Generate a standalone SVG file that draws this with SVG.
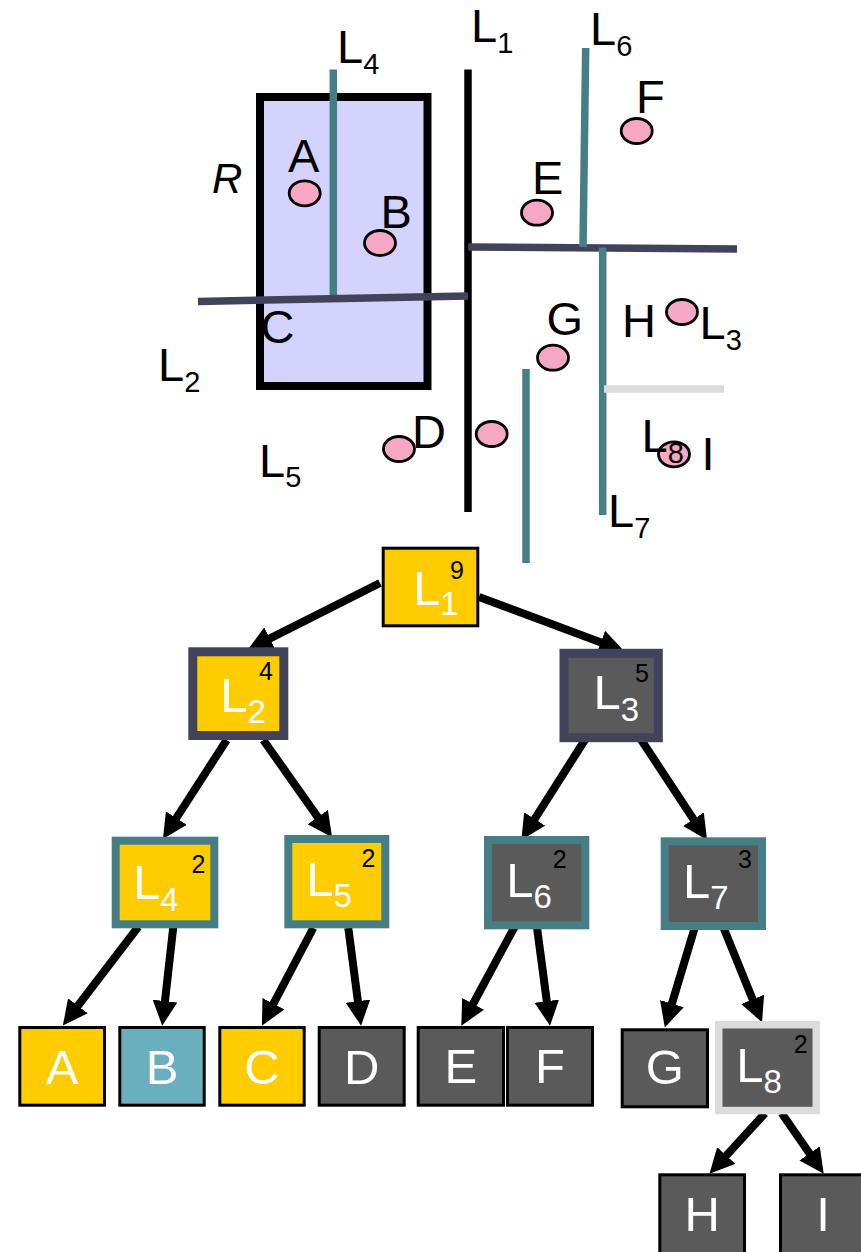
<svg xmlns="http://www.w3.org/2000/svg" width="861" height="1252" viewBox="0 0 861 1252">
  <style>
    text { font-family: "Liberation Sans", Arial, sans-serif; }
    .lbl { font-size: 47px; fill: #000; }
    .sub { font-size: 29px; }
    .pt { fill: #f5a7c4; stroke: #000; stroke-width: 2.8; }
    .teal { stroke: #457e84; stroke-width: 7.5; fill: none; }
    .navy { stroke: #42435a; stroke-width: 7.5; fill: none; }
    .blk { stroke: #000; stroke-width: 7.5; fill: none; }
    .light { stroke: #dcdcdc; stroke-width: 7.5; fill: none; }
    .edge { stroke: #000; stroke-width: 8; fill: none; marker-end: url(#arrow); }
    .yel { fill: #ffcc00; }
    .gry { fill: #5a5a5a; }
    .blu { fill: #69afbd; }
    .leaf { stroke: #000; stroke-width: 3; }
    .bn { stroke: #42435a; stroke-width: 9; }
    .bt { stroke: #457e84; stroke-width: 8; }
    .bl { stroke: #dcdcdc; stroke-width: 7.5; }
    .nl { font-size: 49px; fill: #fff; }
    .ns { font-size: 33px; }
    .cnt { font-size: 25px; fill: #000; }
    .ll { font-size: 49px; fill: #fff; text-anchor: middle; }
  </style>
  <defs>
    <marker id="arrow" viewBox="0 0 10 10" markerWidth="3.1" markerHeight="3.1" refX="1" refY="5" orient="auto">
      <path d="M0,0 L10,5 L0,10 z" fill="#000"/>
    </marker>
  </defs>

  <!-- spatial partition of the plane -->
  <g id="partition">
    <rect id="region-R" x="260" y="97" width="167.5" height="289" fill="#d3d3fd" stroke="#000" stroke-width="8"/>
    <line class="blk" x1="468" y1="69.5" x2="468" y2="512"/>
    <line class="teal" x1="333.3" y1="69.5" x2="333.3" y2="298"/>
    <line class="navy" x1="198" y1="301.5" x2="468" y2="296"/>
    <line class="navy" x1="468.3" y1="247" x2="737" y2="249"/>
    <line class="teal" x1="585.7" y1="48" x2="583" y2="247"/>
    <line class="teal" x1="602.7" y1="247.5" x2="602.7" y2="515"/>
    <line class="light" x1="604" y1="389" x2="724" y2="389"/>
    <line class="teal" x1="526" y1="369" x2="526" y2="563"/>

    <ellipse class="pt" cx="304.7" cy="193.3" rx="15.5" ry="12.5"/>
    <ellipse class="pt" cx="380" cy="243" rx="15.5" ry="12.5"/>
    <ellipse class="pt" cx="537" cy="212.7" rx="15.5" ry="12.5"/>
    <ellipse class="pt" cx="636.7" cy="131" rx="15.5" ry="12.5"/>
    <ellipse class="pt" cx="553" cy="357.7" rx="15.5" ry="12.5"/>
    <ellipse class="pt" cx="682" cy="312" rx="15.5" ry="12.5"/>
    <ellipse class="pt" cx="399" cy="449" rx="15.5" ry="12.5"/>
    <ellipse class="pt" cx="491.7" cy="434" rx="15.5" ry="12.5"/>
    <ellipse class="pt" cx="674" cy="454.3" rx="15.5" ry="12.5"/>

    <text class="lbl" x="471" y="42">L<tspan class="sub" dy="11">1</tspan></text>
    <text class="lbl" x="337" y="63">L<tspan class="sub" dy="11">4</tspan></text>
    <text class="lbl" x="590" y="45">L<tspan class="sub" dy="11">6</tspan></text>
    <text class="lbl" x="158" y="381">L<tspan class="sub" dy="11">2</tspan></text>
    <text class="lbl" x="259" y="477">L<tspan class="sub" dy="10">5</tspan></text>
    <text class="lbl" x="699.5" y="339">L<tspan class="sub" dy="11">3</tspan></text>
    <text class="lbl" x="608" y="527">L<tspan class="sub" dy="11">7</tspan></text>
    <text class="lbl" x="641.5" y="452">L<tspan class="sub" dy="11">8</tspan></text>
    <text x="212" y="193" font-size="42" font-style="italic">R</text>
    <text class="lbl" x="288" y="172">A</text>
    <text class="lbl" x="380.6" y="228">B</text>
    <text class="lbl" x="260.5" y="343">C</text>
    <text class="lbl" x="412" y="448">D</text>
    <text class="lbl" x="532" y="194">E</text>
    <text class="lbl" x="636" y="113">F</text>
    <text class="lbl" x="546.5" y="335">G</text>
    <text class="lbl" x="622" y="337">H</text>
    <text class="lbl" x="701.5" y="470">I</text>
  </g>

  <!-- tree edges -->
  <g id="connectors">
    <line class="edge" x1="380" y1="583" x2="267.6" y2="639.6"/>
    <line class="edge" x1="479" y1="597" x2="603.1" y2="643.2"/>
    <line class="edge" x1="226.7" y1="740" x2="175" y2="820.2"/>
    <line class="edge" x1="263.3" y1="740" x2="319.2" y2="819.1"/>
    <line class="edge" x1="589.3" y1="733" x2="533.3" y2="821.1"/>
    <line class="edge" x1="636.7" y1="733" x2="694.8" y2="821.3"/>
    <line class="edge" x1="138.3" y1="926.7" x2="76.4" y2="1007.8"/>
    <line class="edge" x1="173.3" y1="926.7" x2="164.7" y2="1003.5"/>
    <line class="edge" x1="313.3" y1="928" x2="272.3" y2="1005.9"/>
    <line class="edge" x1="348.3" y1="928" x2="358.2" y2="1003.6"/>
    <line class="edge" x1="518.3" y1="920" x2="471.9" y2="1006"/>
    <line class="edge" x1="536" y1="920" x2="547.1" y2="1003.6"/>
    <line class="edge" x1="696" y1="923.3" x2="671.2" y2="1006"/>
    <line class="edge" x1="721.7" y1="923.3" x2="753.6" y2="1001.7"/>
    <line class="edge" x1="765" y1="1113.3" x2="724.6" y2="1157.4"/>
    <line class="edge" x1="781.7" y1="1113.3" x2="811" y2="1155.5"/>
  </g>

  <!-- internal nodes -->
  <g id="node-L1">
    <rect class="yel leaf" x="383.2" y="548.2" width="94.6" height="77.6"/>
    <text class="nl" x="413" y="605">L<tspan class="ns" dy="10">1</tspan></text>
    <text class="cnt" x="450" y="579" font-size="27">9</text>
  </g>
  <g id="node-L2">
    <rect class="yel bn" x="192.8" y="651.8" width="91" height="83.7"/>
    <text class="nl" x="220.3" y="711.7">L<tspan class="ns" dy="11.6">2</tspan></text>
    <text class="cnt" x="259" y="680">4</text>
  </g>
  <g id="node-L3">
    <rect class="gry bn" x="564" y="653.3" width="94.3" height="84.4" stroke-width="8"/>
    <text class="nl" x="593.6" y="709.3">L<tspan class="ns" dy="11.4">3</tspan></text>
    <text class="cnt" x="635" y="681.7">5</text>
  </g>
  <g id="node-L4">
    <rect class="yel bt" x="115.7" y="840.7" width="98.6" height="83.6"/>
    <text class="nl" x="133" y="899.3">L<tspan class="ns" dy="11.4">4</tspan></text>
    <text class="cnt" x="191.5" y="872.7">2</text>
  </g>
  <g id="node-L5">
    <rect class="yel bt" x="288.3" y="839" width="97" height="85.3"/>
    <text class="nl" x="306.3" y="896">L<tspan class="ns" dy="11.3">5</tspan></text>
    <text class="cnt" x="361.5" y="866.7">2</text>
  </g>
  <g id="node-L6">
    <rect class="gry bt" x="488" y="840" width="97.3" height="85.3"/>
    <text class="nl" x="506.3" y="896.7">L<tspan class="ns" dy="11.6">6</tspan></text>
    <text class="cnt" x="552.8" y="868.3">2</text>
  </g>
  <g id="node-L7">
    <rect class="gry bt" x="664.7" y="841.3" width="97.3" height="84.7"/>
    <text class="nl" x="683" y="898.3">L<tspan class="ns" dy="11">7</tspan></text>
    <text class="cnt" x="738" y="868.3">3</text>
  </g>
  <g id="node-L8">
    <rect class="gry bl" x="718.75" y="1024.75" width="97.5" height="85.8"/>
    <text class="nl" x="736.3" y="1081.7">L<tspan class="ns" dy="11.6">8</tspan></text>
    <text class="cnt" x="793.8" y="1053.3">2</text>
  </g>

  <!-- leaves -->
  <g id="leaf-A">
    <rect class="yel leaf" x="19.8" y="1027.5" width="84.7" height="77.7"/>
    <text class="ll" x="62.2" y="1084">A</text>
  </g>
  <g id="leaf-B">
    <rect class="blu leaf" x="119.8" y="1027.5" width="84.4" height="77.7"/>
    <text class="ll" x="162" y="1084">B</text>
  </g>
  <g id="leaf-C">
    <rect class="yel leaf" x="219.8" y="1027.5" width="84.4" height="77.7"/>
    <text class="ll" x="262" y="1084">C</text>
  </g>
  <g id="leaf-D">
    <rect class="gry leaf" x="319.2" y="1027.5" width="85" height="77.7"/>
    <text class="ll" x="361.7" y="1084">D</text>
  </g>
  <g id="leaf-E">
    <rect class="gry leaf" x="418.2" y="1027.5" width="85.3" height="77.7"/>
    <text class="ll" x="460.8" y="1083.3">E</text>
  </g>
  <g id="leaf-F">
    <rect class="gry leaf" x="507.5" y="1027.5" width="85" height="77.7"/>
    <text class="ll" x="550" y="1083.3">F</text>
  </g>
  <g id="leaf-G">
    <rect class="gry leaf" x="622.2" y="1029.8" width="85.3" height="77"/>
    <text class="ll" x="664.8" y="1084">G</text>
  </g>
  <g id="leaf-H">
    <rect class="gry leaf" x="659.8" y="1174.8" width="84.7" height="90"/>
    <text class="ll" x="702.2" y="1230.7">H</text>
  </g>
  <g id="leaf-I">
    <rect class="gry leaf" x="780.5" y="1174.8" width="88" height="90"/>
    <text class="ll" x="823" y="1230.7">I</text>
  </g>
</svg>
